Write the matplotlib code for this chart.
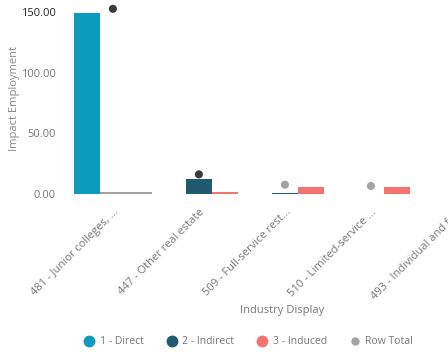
import matplotlib.pyplot as plt
import numpy as np
from matplotlib.lines import Line2D

plt.rcParams['font.family'] = ['Open Sans', 'DejaVu Sans']

# data
industries = ["481 - Junior colleges, ...", "447 - Other real estate",
              "509 - Full-service rest...", "510 - Limited-service ...",
              "493 - Individual and fa..."]
direct = [149.2, 0.0, 0.0, 0.0, 0.0]
indirect = [1.6, 12.1, 1.1, 0.0, 0.0]
induced = [1.6, 1.9, 5.5, 5.5, 5.0]
row_total = [152.5, 16.2, 7.7, 6.6, 5.5]
yticks = [0, 50, 100, 150]

c_direct = '#0b9bbd'
c_indirect = '#215a70'
c_induced = '#f2736f'
c_grey = '#a3a3a3'
c_dark = '#3b3b3b'

fig = plt.figure(figsize=(4.48, 3.56), dpi=100)
ax = fig.add_axes([0.156, 0.455, 0.96, 0.539])

x = np.arange(len(industries))
w = 0.30
# first group: indirect / induced drawn in grey as in the reference
ind_colors = [c_grey] + [c_indirect] * (len(x) - 1)
inu_colors = [c_grey] + [c_induced] * (len(x) - 1)
ax.bar(x - w, direct, w, color=c_direct)
ax.bar(x, indirect, w, color=ind_colors)
ax.bar(x + w, induced, w, color=inu_colors)
dot_colors = [c_dark, c_dark, c_grey, c_grey, c_grey]
ax.scatter(x, row_total, s=34, color=dot_colors, zorder=3, linewidths=0)

ax.set_xlim(-0.5, len(x) - 0.5)
ax.set_ylim(0, 158)
ax.set_yticks(yticks)
ax.set_yticklabels(['%.2f' % v for v in yticks])
ax.set_xticks(x)
ax.set_xticklabels(industries, rotation=45, ha='right', rotation_mode='anchor')
ax.tick_params(axis='y', length=0, pad=10, labelsize=8, labelcolor='#777777')
ax.get_yticklabels()[-1].set_color('#222222')
ax.tick_params(axis='x', length=0, pad=9, labelsize=8, labelcolor='#777777')
for s in ax.spines.values():
    s.set_visible(False)

ax.set_ylabel('Impact Employment', fontsize=8, color='#888888', labelpad=1)
fig.text(282 / 448, 1 - 311 / 356, 'Industry Display', fontsize=8, color='#777777',
         ha='center', va='center')

handles = [
    Line2D([], [], marker='o', ls='', color=c_direct, markersize=7.5, label='1 - Direct'),
    Line2D([], [], marker='o', ls='', color=c_indirect, markersize=7.5, label='2 - Indirect'),
    Line2D([], [], marker='o', ls='', color=c_induced, markersize=7.5, label='3 - Induced'),
    Line2D([], [], marker='o', ls='', color=c_grey, markersize=5, label='Row Total'),
]
leg = fig.legend(handles=handles, loc='center', bbox_to_anchor=(249 / 448, 1 - 342 / 356),
                 ncol=4, frameon=False, fontsize=7.5, handlelength=0.8,
                 handletextpad=0.6, columnspacing=2.3)
for t in leg.get_texts():
    t.set_color('#777777')

fig.savefig('out.png', dpi=100)
